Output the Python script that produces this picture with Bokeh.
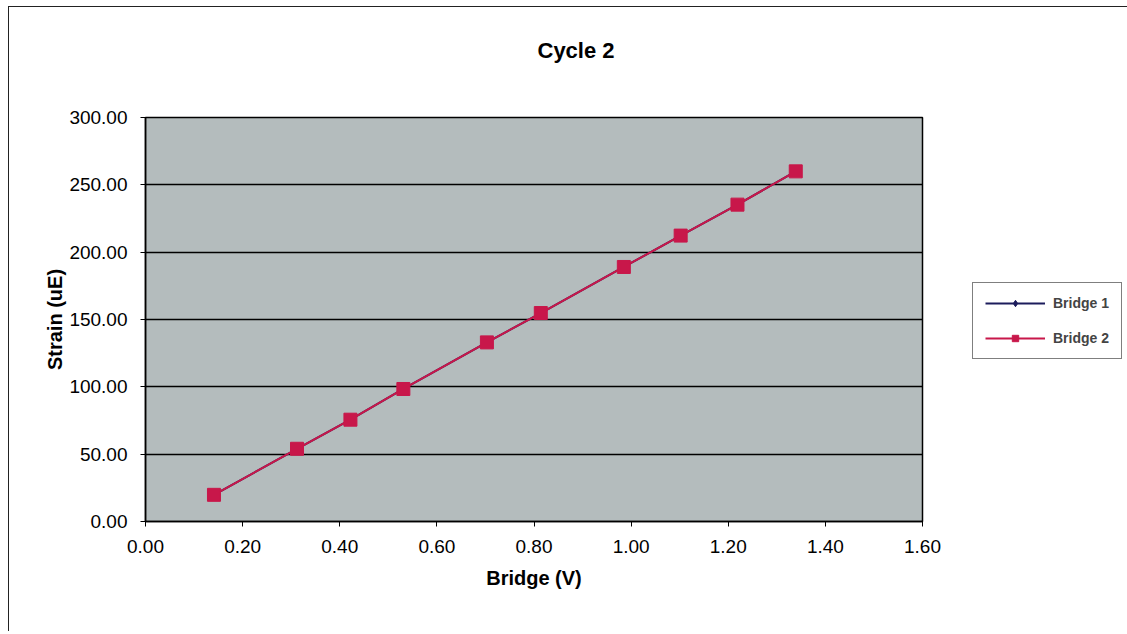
from bokeh.plotting import figure
from bokeh.models import Range1d, Legend, LegendItem, NumeralTickFormatter, FixedTicker, Title
from bokeh.embed import file_html
from bokeh.resources import INLINE

# Data
bridge_v = [0.141, 0.312, 0.422, 0.531, 0.703, 0.814, 0.985, 1.102, 1.219, 1.339]
bridge2_strain = [19.8, 54.0, 75.6, 98.4, 133.0, 154.8, 189.0, 212.3, 235.3, 260.0]
bridge1_strain = [19.8, 54.0, 75.6, 98.4, 133.0, 154.8, 189.0, 212.3, 235.3, 260.0]
x_ticks = [0.0, 0.2, 0.4, 0.6, 0.8, 1.0, 1.2, 1.4, 1.6]
y_ticks = [0, 50, 100, 150, 200, 250, 300]

FONT = "Liberation Sans"
RED = "#c8174a"
NAVY = "#1c1c5c"

p = figure(frame_width=777, frame_height=404, output_backend="svg", toolbar_location=None,
           x_range=Range1d(0, 1.6), y_range=Range1d(0, 300),
           min_border_left=136, min_border_right=204, min_border_top=110,
           min_border_bottom=110, title=None)
p.styles = {"margin-left": "8px", "margin-top": "6px",
            "border-left": "1px solid #222", "border-top": "1px solid #222"}

p.background_fill_color = "#b4bcbd"
p.border_fill_color = "white"
p.outline_line_color = "black"
p.outline_line_width = 1.5

# spacer between frame and title (blank text)
spacer = Title(text=" ", text_font=FONT, text_font_size="10px", standoff=42)
p.add_layout(spacer, "above")
main_title = Title(text="Cycle 2", text_font=FONT, text_font_size="22px",
                   text_font_style="bold", text_color="black", align="left",
                   offset=392, standoff=0)
p.add_layout(main_title, "above")

p.xgrid.visible = False
p.ygrid.grid_line_color = "black"
p.ygrid.grid_line_width = 1.3
p.ygrid.ticker = FixedTicker(ticks=y_ticks)

for ax in (p.xaxis[0], p.yaxis[0]):
    ax.axis_line_color = "black"
    ax.axis_line_width = 1.5
    ax.major_tick_line_color = "black"
    ax.major_tick_in = 0
    ax.major_tick_out = 5
    ax.minor_tick_line_color = None
    ax.major_label_text_font = FONT
    ax.major_label_text_font_size = "19px"
    ax.major_label_text_color = "black"
    ax.axis_label_text_font = FONT
    ax.axis_label_text_font_size = "20px"
    ax.axis_label_text_font_style = "bold"
    ax.axis_label_text_color = "black"
    ax.formatter = NumeralTickFormatter(format="0.00")

p.xaxis[0].ticker = FixedTicker(ticks=x_ticks)
p.yaxis[0].ticker = FixedTicker(ticks=y_ticks)
p.xaxis[0].axis_label = "Bridge (V)"
p.yaxis[0].axis_label = "Strain (uE)"
p.xaxis[0].major_label_standoff = 13
p.xaxis[0].axis_label_standoff = 11
p.yaxis[0].major_label_standoff = 13
p.yaxis[0].axis_label_standoff = 0

l1 = p.line(bridge_v, bridge1_strain, line_color=NAVY, line_width=2)
s1 = p.scatter(bridge_v, bridge1_strain, marker="diamond", size=11, fill_color=NAVY, line_color=NAVY)
l2 = p.line(bridge_v, bridge2_strain, line_color=RED, line_width=2)
s2 = p.scatter(bridge_v, bridge2_strain, marker="square", size=13, fill_color=RED, line_color=RED)

legend = Legend(items=[LegendItem(label="Bridge 1", renderers=[l1, s1]),
                       LegendItem(label="Bridge 2", renderers=[l2, s2])],
                location=(50, 162), margin=0)
legend.label_text_font = FONT
legend.label_text_font_size = "14px"
legend.label_text_font_style = "bold"
legend.glyph_width = 60
legend.glyph_height = 16
legend.label_height = 16
legend.spacing = 19
legend.padding = 12
legend.label_standoff = 8
legend.border_line_color = "black"
legend.border_line_width = 1
legend.background_fill_color = "white"
legend.background_fill_alpha = 1
p.add_layout(legend, "right")

open("out.html", "w").write(file_html(p, INLINE))
